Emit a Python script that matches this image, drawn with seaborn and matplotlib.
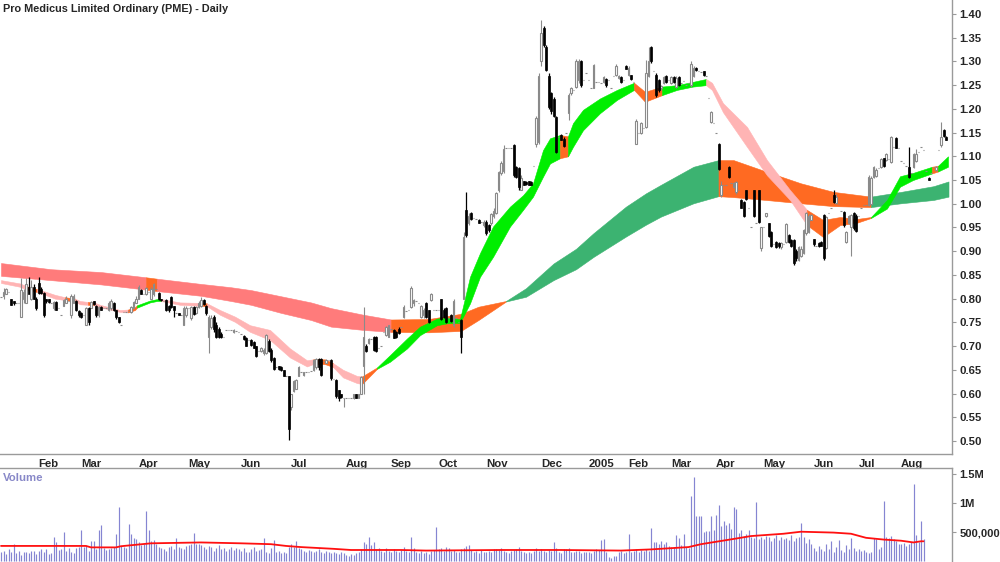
import numpy as np
import pandas as pd
import matplotlib
matplotlib.use("Agg")
import matplotlib.pyplot as plt
from matplotlib import font_manager
import seaborn as sns

# ---- daily bars (open, high, low, close), one list per month ----
jan04 = [(0.803,0.803,0.803,0.803),(0.805,0.822,0.80,0.815),(0.81,0.822,0.81,0.82),(0.815,0.815,0.815,0.815),
         (0.80,0.80,0.787,0.787),(0.795,0.795,0.787,0.79),(0.79,0.79,0.79,0.79),(0.79,0.79,0.79,0.79),
         (0.762,0.843,0.762,0.818),(0.80,0.82,0.79,0.815),(0.79,0.843,0.79,0.83),(0.825,0.845,0.81,0.81),
         (0.80,0.84,0.797,0.825),(0.825,0.83,0.80,0.80),(0.80,0.804,0.776,0.78)]
feb04 = [(0.832,0.845,0.81,0.812),(0.82,0.825,0.81,0.812),(0.812,0.815,0.762,0.765),(0.80,0.80,0.79,0.795),
         (0.80,0.80,0.79,0.792),(0.79,0.79,0.79,0.79),(0.78,0.795,0.775,0.793),(0.793,0.795,0.775,0.777),
         (0.78,0.78,0.78,0.78),(0.766,0.766,0.766,0.766),(0.785,0.80,0.785,0.797),(0.79,0.805,0.79,0.80),
         (0.795,0.795,0.795,0.795),(0.765,0.81,0.76,0.805),(0.79,0.81,0.79,0.805),(0.795,0.797,0.773,0.775),
         (0.773,0.775,0.762,0.765)]
mar04 = [(0.77,0.772,0.76,0.762),(0.765,0.765,0.765,0.765),(0.745,0.783,0.745,0.78),(0.78,0.783,0.745,0.75),
         (0.78,0.795,0.78,0.792),(0.794,0.794,0.787,0.788),(0.785,0.787,0.762,0.765),(0.765,0.785,0.762,0.783),
         (0.783,0.785,0.775,0.776),(0.78,0.78,0.78,0.78),(0.78,0.78,0.78,0.78),(0.775,0.795,0.773,0.79),
         (0.78,0.80,0.775,0.795),(0.79,0.792,0.773,0.775),(0.775,0.775,0.758,0.762),(0.762,0.762,0.748,0.75),
         (0.745,0.745,0.745,0.745),(0.772,0.772,0.772,0.772),(0.772,0.772,0.772,0.772),(0.773,0.773,0.773,0.773),
         (0.772,0.785,0.77,0.783),(0.78,0.795,0.78,0.792),(0.79,0.805,0.79,0.80)]
apr04 = [(0.80,0.828,0.80,0.825),(0.818,0.82,0.81,0.81),(0.81,0.81,0.81,0.81),(0.81,0.825,0.808,0.822),
         (0.815,0.815,0.815,0.815),(0.80,0.825,0.80,0.82),(0.81,0.833,0.805,0.83),(0.82,0.82,0.82,0.82),
         (0.811,0.815,0.797,0.80),(0.80,0.80,0.795,0.797),(0.795,0.795,0.795,0.795),(0.797,0.80,0.773,0.775),
         (0.785,0.787,0.772,0.775),(0.804,0.806,0.78,0.783),(0.785,0.785,0.762,0.776),(0.77,0.77,0.77,0.77),
         (0.769,0.77,0.765,0.766),(0.766,0.766,0.766,0.766),(0.744,0.785,0.744,0.78),(0.765,0.785,0.762,0.78)]
may04 = [(0.78,0.78,0.78,0.78),(0.76,0.785,0.755,0.783),(0.783,0.785,0.765,0.768),(0.77,0.785,0.768,0.782),
         (0.782,0.795,0.78,0.79),(0.785,0.804,0.783,0.797),(0.797,0.80,0.787,0.788),(0.785,0.787,0.765,0.77),
         (0.72,0.765,0.685,0.762),(0.74,0.765,0.735,0.76),(0.762,0.765,0.73,0.735),(0.745,0.75,0.716,0.72),
         (0.735,0.74,0.716,0.72),(0.725,0.73,0.716,0.72),(0.72,0.72,0.72,0.72),(0.734,0.734,0.734,0.734),
         (0.734,0.734,0.734,0.734),(0.733,0.733,0.733,0.733),(0.73,0.735,0.728,0.733),(0.732,0.732,0.732,0.732),
         (0.73,0.73,0.73,0.73)]
jun04 = [(0.725,0.725,0.725,0.725),(0.722,0.724,0.712,0.714),(0.716,0.72,0.70,0.70),(0.712,0.712,0.712,0.712),
         (0.712,0.715,0.70,0.702),(0.709,0.71,0.695,0.696),(0.70,0.70,0.678,0.68),(0.69,0.69,0.69,0.69),
         (0.69,0.697,0.688,0.695),(0.685,0.695,0.682,0.692),(0.685,0.725,0.683,0.723),(0.71,0.715,0.688,0.69),
         (0.692,0.695,0.667,0.67),(0.674,0.676,0.65,0.652),(0.655,0.655,0.655,0.655),(0.657,0.658,0.65,0.652),
         (0.655,0.657,0.648,0.65),(0.65,0.65,0.636,0.637),(0.636,0.636,0.636,0.636),(0.636,0.636,0.502,0.525)]
jul04 = [(0.572,0.60,0.565,0.598),(0.605,0.628,0.603,0.626),(0.61,0.63,0.61,0.628),(0.636,0.657,0.636,0.655),
         (0.645,0.645,0.645,0.645),(0.638,0.646,0.636,0.645),(0.645,0.645,0.645,0.645),(0.646,0.646,0.646,0.646),
         (0.648,0.648,0.648,0.648),(0.65,0.672,0.648,0.67),(0.655,0.675,0.652,0.672),(0.672,0.675,0.65,0.655),
         (0.672,0.674,0.636,0.64),(0.668,0.668,0.668,0.668),(0.665,0.672,0.664,0.67),(0.67,0.67,0.67,0.67),
         (0.67,0.672,0.628,0.632),(0.63,0.63,0.63,0.63),(0.628,0.63,0.59,0.595),(0.607,0.608,0.585,0.59),
         (0.60,0.60,0.59,0.592),(0.59,0.59,0.572,0.59)]
aug04 = [(0.59,0.59,0.59,0.59),(0.59,0.59,0.59,0.59),(0.59,0.59,0.59,0.59),(0.59,0.60,0.588,0.598),
         (0.60,0.60,0.59,0.59),(0.59,0.60,0.59,0.598),(0.598,0.636,0.598,0.634),(0.657,0.782,0.60,0.72),
         (0.70,0.705,0.688,0.69),(0.706,0.716,0.704,0.715),(0.715,0.715,0.715,0.715),(0.72,0.722,0.69,0.692),
         (0.72,0.722,0.688,0.69),(0.695,0.695,0.695,0.695),(0.70,0.70,0.70,0.70),(0.73,0.73,0.73,0.73),
         (0.723,0.742,0.722,0.74),(0.72,0.745,0.72,0.744)]
sep04 = [(0.735,0.735,0.735,0.735),(0.734,0.736,0.716,0.718),(0.73,0.732,0.716,0.72),(0.737,0.74,0.726,0.727),
         (0.74,0.74,0.74,0.74),(0.762,0.786,0.76,0.783),(0.773,0.773,0.773,0.773),(0.775,0.775,0.775,0.775),
         (0.783,0.826,0.78,0.822),(0.79,0.80,0.785,0.797),(0.794,0.794,0.794,0.794),(0.79,0.79,0.79,0.79),
         (0.762,0.787,0.76,0.785),(0.765,0.78,0.76,0.776),(0.79,0.792,0.76,0.762),(0.775,0.777,0.748,0.75),
         (0.797,0.811,0.795,0.81),(0.775,0.775,0.775,0.775),(0.775,0.775,0.775,0.775)]
oct04 = [(0.775,0.775,0.775,0.775),(0.80,0.80,0.755,0.757),(0.775,0.78,0.76,0.762),(0.78,0.782,0.748,0.75),
         (0.76,0.76,0.76,0.76),(0.765,0.767,0.75,0.752),(0.745,0.80,0.74,0.795),(0.76,0.76,0.76,0.76),
         (0.75,0.75,0.75,0.75),(0.755,0.757,0.685,0.72),(0.80,0.94,0.80,0.93),(0.987,1.025,0.93,0.935),
         (0.96,0.98,0.955,0.975),(0.98,0.982,0.966,0.968),(0.97,0.97,0.97,0.97),(0.968,0.968,0.968,0.968),
         (0.966,0.968,0.96,0.96),(0.962,0.962,0.962,0.962),(0.955,0.965,0.95,0.962)]
nov04 = [(0.962,0.965,0.935,0.938),(0.955,0.958,0.94,0.945),(0.959,0.98,0.955,0.978),(0.975,0.99,0.97,0.985),
         (0.98,1.025,0.978,1.022),(1.029,1.07,1.025,1.066),(1.064,1.09,1.06,1.085),(1.07,1.124,1.065,1.115),
         (1.118,1.118,1.118,1.118),(1.118,1.118,1.118,1.118),(1.117,1.117,1.117,1.117),(1.124,1.125,1.057,1.06),
         (1.078,1.08,1.055,1.057),(1.075,1.078,1.03,1.035),(1.03,1.06,1.028,1.055),(1.047,1.048,1.04,1.04),
         (1.046,1.047,1.04,1.041),(1.047,1.048,1.04,1.04),(1.046,1.047,1.04,1.04),(1.08,1.08,1.08,1.08),
         (1.127,1.185,1.12,1.18),(1.13,1.275,1.125,1.27)]
dec04 = [(1.30,1.387,1.29,1.36),(1.37,1.375,1.33,1.335),(1.331,1.335,1.28,1.282),(1.27,1.275,1.20,1.205),
         (1.233,1.235,1.19,1.195),(1.22,1.225,1.183,1.185),(1.183,1.185,1.106,1.11),(1.14,1.14,1.14,1.14),
         (1.145,1.147,1.134,1.135),(1.136,1.14,1.12,1.122),(1.15,1.15,1.15,1.15),(1.191,1.233,1.177,1.23),
         (1.233,1.247,1.23,1.245),(1.24,1.24,1.24,1.24),(1.247,1.305,1.245,1.30),(1.26,1.305,1.255,1.30),
         (1.30,1.303,1.247,1.25),(1.26,1.26,1.26,1.26),(1.275,1.275,1.275,1.275)]
jan05 = [(1.26,1.26,1.26,1.26),(1.243,1.243,1.243,1.243),(1.245,1.295,1.243,1.292),(1.257,1.257,1.257,1.257),
         (1.257,1.257,1.257,1.257),(1.255,1.255,1.255,1.255),(1.257,1.27,1.255,1.268),(1.264,1.265,1.247,1.25),
         (1.26,1.26,1.26,1.26),(1.245,1.245,1.245,1.245),(1.27,1.27,1.27,1.27),(1.271,1.295,1.27,1.29),
         (1.265,1.272,1.262,1.27),(1.268,1.27,1.255,1.257),(1.26,1.26,1.26,1.26),(1.29,1.292,1.283,1.285)]
feb05 = [(1.271,1.29,1.27,1.286),(1.271,1.272,1.261,1.262),(1.257,1.257,1.257,1.257),(1.127,1.178,1.125,1.175),
         (1.15,1.15,1.15,1.15),(1.15,1.172,1.148,1.17),(1.159,1.159,1.159,1.159),(1.162,1.303,1.16,1.275),
         (1.27,1.33,1.268,1.30),(1.331,1.333,1.297,1.30),(1.28,1.28,1.28,1.28),(1.271,1.275,1.226,1.23),
         (1.26,1.262,1.235,1.24),(1.243,1.25,1.24,1.248),(1.255,1.27,1.253,1.268),(1.27,1.272,1.254,1.256),
         (1.26,1.26,1.26,1.26)]
mar05 = [(1.254,1.27,1.252,1.268),(1.268,1.27,1.255,1.257),(1.247,1.27,1.245,1.265),(1.268,1.27,1.248,1.25),
         (1.255,1.255,1.255,1.255),(1.258,1.258,1.258,1.258),(1.25,1.25,1.25,1.25),(1.255,1.255,1.255,1.255),
         (1.25,1.30,1.247,1.295),(1.27,1.29,1.268,1.287),(1.286,1.288,1.28,1.281),(1.28,1.28,1.28,1.28),
         (1.278,1.278,1.278,1.278),(1.28,1.28,1.27,1.272),(1.27,1.27,1.27,1.27),(1.222,1.222,1.222,1.222),
         (1.173,1.196,1.17,1.194),(1.17,1.17,1.17,1.17)]
apr05 = [(1.149,1.149,1.149,1.149),(1.127,1.128,1.071,1.073),(1.018,1.047,1.015,1.04),(1.04,1.04,1.04,1.04),
         (1.04,1.04,1.04,1.04),(1.078,1.08,1.055,1.057),(1.043,1.043,1.043,1.043),(1.035,1.045,1.033,1.043),
         (1.025,1.047,1.02,1.045),(1.03,1.03,1.03,1.03),(1.008,1.01,0.99,0.992),(1.004,1.005,0.973,0.975),
         (1.029,1.03,1.008,1.01),(0.99,0.99,0.99,0.99),(0.952,0.952,0.952,0.952),(1.029,1.03,0.972,0.975),
         (0.96,0.96,0.96,0.96),(1.029,1.03,0.959,0.962),(0.906,0.952,0.90,0.95)]
may05 = [(0.95,0.95,0.95,0.95),(0.975,0.98,0.972,0.98),(0.959,0.96,0.93,0.932),(0.94,0.942,0.909,0.912),
         (0.915,0.915,0.915,0.915),(0.92,0.922,0.906,0.908),(0.918,0.92,0.906,0.91),(0.909,0.92,0.905,0.917),
         (0.915,0.915,0.915,0.915),(0.92,0.96,0.918,0.958),(0.934,0.936,0.917,0.92),(0.924,0.925,0.909,0.91),
         (0.924,0.925,0.871,0.875),(0.90,0.905,0.88,0.885),(0.881,0.912,0.88,0.909),(0.89,0.91,0.888,0.905),
         (0.896,0.947,0.895,0.945),(0.938,0.982,0.935,0.98),(0.94,0.978,0.938,0.975),(0.966,0.978,0.965,0.976)]
jun05 = [(0.925,0.926,0.912,0.915),(0.91,0.91,0.91,0.91),(0.918,0.92,0.909,0.91),(0.92,0.921,0.91,0.912),
         (0.976,0.978,0.881,0.885),(0.906,0.975,0.905,0.973),(0.98,0.98,0.98,0.98),(0.99,0.99,0.99,0.99),
         (1.018,1.03,1.001,1.003),(1.002,1.02,1.0,1.015),(1.0,1.0,1.0,1.0),(0.985,0.985,0.985,0.985),
         (0.983,0.985,0.952,0.955),(0.92,0.942,0.918,0.94),(0.959,0.977,0.958,0.975),(0.95,0.978,0.89,0.976),
         (0.98,0.982,0.945,0.948),(0.975,0.978,0.94,0.942)]
jul05 = [(0.975,0.975,0.975,0.975),(0.99,0.99,0.99,0.99),(0.997,0.997,0.997,0.997),(0.998,0.998,0.998,0.998),
         (0.997,1.06,0.995,1.057),(1.0,1.058,0.997,1.055),(1.057,1.08,1.055,1.078),(1.058,1.075,1.056,1.072),
         (1.075,1.075,1.075,1.075),(1.078,1.097,1.076,1.095),(1.096,1.097,1.078,1.08),(1.092,1.106,1.09,1.105),
         (1.095,1.095,1.095,1.095),(1.089,1.142,1.085,1.14),(1.12,1.12,1.12,1.12),(1.138,1.14,1.117,1.118),
         (1.117,1.117,1.117,1.117)]
aug05 = [(1.09,1.09,1.09,1.09),(1.085,1.085,1.085,1.085),(1.08,1.08,1.08,1.08),(1.078,1.12,1.055,1.057),
         (1.065,1.065,1.065,1.065),(1.078,1.106,1.076,1.104),(1.09,1.115,1.088,1.105),(1.11,1.11,1.11,1.11),
         (1.12,1.12,1.12,1.12),(1.113,1.113,1.113,1.113),(1.07,1.07,1.07,1.07),(1.055,1.056,1.05,1.05),
         (1.065,1.065,1.065,1.065),(1.078,1.078,1.078,1.078),(1.071,1.079,1.07,1.078),(1.113,1.113,1.113,1.113),
         (1.124,1.173,1.12,1.14),(1.155,1.157,1.141,1.143),(1.141,1.142,1.134,1.135)]

price_months = [jan04, feb04, mar04, apr04, may04, jun04, jul04, aug04, sep04, oct04, nov04, dec04,
                jan05, feb05, mar05, apr05, may05, jun05, jul05, aug05]
month_labels = ["", "Feb", "Mar", "Apr", "May", "Jun", "Jul", "Aug", "Sep", "Oct", "Nov", "Dec",
                "2005", "Feb", "Mar", "Apr", "May", "Jun", "Jul", "Aug"]

# ---- daily volume (thousands of shares), one list per month ----
vol_jan04 = [150, 180, 120, 200, 160, 290, 130, 170, 110, 150, 160, 140, 180, 170, 120]
vol_feb04 = [180, 200, 160, 210, 120, 140, 410, 330, 190, 200, 500, 180, 230, 150, 140, 220, 240]
vol_mar04 = [530, 250, 260, 180, 350, 350, 200, 540, 620, 230, 190, 210, 220, 240, 460, 930, 260, 240,
             220, 630, 460, 400, 380]
vol_apr04 = [330, 280, 300, 860, 540, 350, 360, 300, 250, 220, 200, 180, 240, 260, 210, 400, 250, 230, 200, 260]
vol_may04 = [280, 300, 480, 290, 300, 270, 250, 200, 260, 240, 180, 220, 280, 200, 230, 170, 210, 250, 190, 230, 200]
vol_jun04 = [180, 220, 160, 150, 200, 240, 170, 190, 210, 400, 160, 140, 230, 360, 150, 170, 130, 150, 140, 250]
vol_jul04 = [300, 250, 340, 230, 200, 180, 160, 190, 170, 150, 180, 200, 160, 140, 170, 150, 130, 160, 140, 120,
             150, 130]
vol_aug04 = [110, 90, 120, 100, 130, 150, 200, 330, 300, 420, 280, 330, 200, 230, 180, 160, 220, 170]
vol_sep04 = [150, 200, 170, 160, 190, 250, 180, 160, 410, 220, 150, 130, 170, 140, 160, 120, 180, 190, 590]
vol_oct04 = [200, 230, 180, 250, 220, 170, 190, 160, 150, 210, 230, 260, 280, 190, 160, 170, 140, 190, 150]
vol_nov04 = [160, 180, 150, 200, 210, 190, 230, 170, 160, 140, 180, 190, 200, 250, 170, 150, 140, 160, 130, 170,
             220, 180]
vol_dec04 = [210, 180, 160, 190, 170, 320, 230, 150, 140, 200, 210, 220, 160, 150, 170, 180, 140, 150, 160]
vol_jan05 = [150, 130, 170, 200, 190, 370, 380, 160, 70, 60, 80, 90, 150, 170, 140, 160]
vol_feb05 = [460, 150, 180, 200, 160, 190, 180, 210, 170, 570, 330, 320, 290, 350, 300, 330, 260]
vol_mar05 = [250, 240, 450, 400, 280, 470, 250, 230, 1120, 1450, 780, 770, 780, 500, 520, 510, 780, 530]
vol_apr05 = [790, 970, 600, 690, 620, 660, 560, 930, 900, 480, 540, 430, 470, 540, 420, 400, 1020, 380, 420]
vol_may05 = [380, 430, 420, 350, 400, 440, 360, 420, 380, 400, 370, 450, 350, 390, 420, 660, 420, 310, 380, 300]
vol_jun05 = [220, 180, 260, 200, 170, 290, 210, 340, 160, 240, 360, 190, 150, 270, 200, 400, 230, 180]
vol_jul05 = [210, 170, 190, 150, 130, 160, 400, 380, 200, 240, 1030, 420, 400, 430, 380, 340, 300]
vol_aug05 = [290, 310, 260, 300, 320, 1330, 440, 330, 690, 380]
volume_months = [vol_jan04, vol_feb04, vol_mar04, vol_apr04, vol_may04, vol_jun04, vol_jul04, vol_aug04,
                 vol_sep04, vol_oct04, vol_nov04, vol_dec04, vol_jan05, vol_feb05, vol_mar05, vol_apr05,
                 vol_may05, vol_jun05, vol_jul05, vol_aug05]

# volume average line (bar position, thousands)
vma_pos = [0, 34, 36, 46, 48, 60, 80, 96, 108, 114, 120, 133, 140, 160, 170, 200, 224, 248, 260, 275,
           280, 293, 300, 313, 320, 333, 340, 346, 353, 360, 365, 368, 369]
vma_val = [260, 260, 235, 235, 255, 305, 320, 305, 290, 260, 240, 210, 190, 190, 180, 190, 190, 180, 200, 240,
           290, 380, 430, 470, 505, 490, 470, 400, 370, 350, 320, 340, 340]

# short-term average ribbon: position, upper, lower, state of the stretch that follows
st_pos = [0, 7.6, 10.4, 14.4, 17.6, 21.6, 25.6, 29.6, 31.6, 34.8, 37.2, 39.6, 47.6, 50.8, 53.6, 54.4, 59.6,
          62.4, 64, 71.6, 79.6, 82.4, 87.6, 93.6, 99.6, 107.6, 115.6, 122.4, 124.8, 129.6, 132.8, 136.8, 142.4,
          144.4, 147.6, 150.4, 155.6, 162.4, 167.6, 174.4, 178.4, 183.6, 187.6, 191.6, 196.8, 203.6, 208.8,
          212.8, 216.8, 219.6, 223.6, 226.8, 228.8, 232.8, 239.6, 246.4, 253.2, 257.6, 264.4, 270.4, 276.8,
          282, 284.4, 288.8, 298.4, 306.4, 315.6, 322.4, 328.8, 335.6, 342.4, 348, 354.4, 359.6, 364.8,
          372.4, 374.8, 378.8]
st_hi = [0.839, 0.832, 0.826, 0.82, 0.815, 0.808, 0.803, 0.80, 0.795, 0.793, 0.792, 0.787, 0.776, 0.777,
         0.782, 0.786, 0.796, 0.799, 0.799, 0.792, 0.791, 0.79, 0.776, 0.762, 0.744, 0.734, 0.695, 0.67,
         0.672, 0.672, 0.664, 0.65, 0.637, 0.636, 0.646, 0.655, 0.681, 0.716, 0.741, 0.758, 0.76, 0.757,
         0.846, 0.896, 0.952, 0.994, 1.018, 1.043, 1.113, 1.138, 1.145, 1.142, 1.17, 1.198, 1.222, 1.24,
         1.255, 1.236, 1.247, 1.25, 1.257, 1.263, 1.255, 1.212, 1.162, 1.092, 1.029, 0.987, 0.966, 0.972,
         0.968, 0.972, 1.008, 1.058, 1.065, 1.078, 1.08, 1.10]
st_lo = [0.833, 0.825, 0.819, 0.814, 0.808, 0.80, 0.797, 0.794, 0.788, 0.787, 0.786, 0.782, 0.772, 0.771,
         0.776, 0.781, 0.792, 0.795, 0.795, 0.787, 0.785, 0.784, 0.766, 0.751, 0.73, 0.713, 0.676, 0.657,
         0.662, 0.662, 0.656, 0.634, 0.622, 0.62, 0.637, 0.652, 0.667, 0.695, 0.723, 0.744, 0.748, 0.749,
         0.79, 0.846, 0.888, 0.952, 0.987, 1.015, 1.057, 1.085, 1.096, 1.10, 1.12, 1.155, 1.191, 1.219,
         1.24, 1.215, 1.229, 1.24, 1.247, 1.25, 1.24, 1.193, 1.12, 1.06, 1.008, 0.955, 0.93, 0.955,
         0.96, 0.97, 0.99, 1.036, 1.05, 1.064, 1.068, 1.078]
st_state = ["D", "D", "M", "D", "D", "D", "M", "D", "D", "M", "D", "D", "D", "M", "M", "U", "U", "U", "D", "D",
            "M", "D", "D", "D", "D", "D", "D", "D", "M", "M", "D", "D", "D", "M", "M", "U", "U", "U", "U", "U",
            "U", "U", "U", "U", "U", "U", "U", "U", "U", "U", "M", "U", "U", "U", "U", "U", "M", "M", "U", "U",
            "U", "D", "D", "D", "D", "D", "D", "M", "M", "M", "M", "U", "U", "U", "U", "M", "U"]

# long-term average ribbon
lt_pos = [0, 20, 40, 58, 62.4, 80, 92, 100, 112, 124, 132, 145, 156, 171, 184, 191, 202, 210, 221, 230,
          237, 250, 258, 264, 277, 287, 293, 306, 320, 333, 348, 360, 373, 379]
lt_hi = [0.875, 0.862, 0.856, 0.845, 0.842, 0.831, 0.824, 0.818, 0.805, 0.792, 0.78, 0.766, 0.756, 0.757,
         0.768, 0.783, 0.795, 0.822, 0.874, 0.905, 0.938, 0.994, 1.022, 1.04, 1.078, 1.092, 1.092, 1.068,
         1.043, 1.025, 1.015, 1.025, 1.037, 1.047]
lt_lo = [0.848, 0.839, 0.83, 0.819, 0.816, 0.806, 0.795, 0.787, 0.77, 0.755, 0.741, 0.734, 0.73, 0.729,
         0.732, 0.755, 0.794, 0.804, 0.839, 0.862, 0.888, 0.931, 0.956, 0.973, 1.001, 1.016, 1.014, 1.008,
         1.001, 0.995, 0.993, 1.001, 1.008, 1.015]
lt_state = ["D", "D", "D", "M", "D", "D", "D", "D", "D", "D", "D", "D", "M", "M", "M", "M", "U", "U", "U", "U",
            "U", "U", "U", "U", "U", "M", "M", "M", "M", "M", "U", "U", "U"]

title = "Pro Medicus Limited Ordinary (PME) - Daily"

# ---- build frames ----
bars = pd.DataFrame([b for m in price_months for b in m], columns=["o", "h", "l", "c"])
bars["x"] = np.arange(len(bars))
month_starts = np.cumsum([0] + [len(m) for m in price_months[:-1]])
vols = np.array([v for m in volume_months for v in m], dtype=float) * 1000
vol_df = pd.DataFrame({"x": np.arange(len(vols)), "v": vols})
vma_df = pd.DataFrame({"x": vma_pos, "v": np.array(vma_val) * 1000.0})

sns.set_style("white")
names = {f.name for f in font_manager.fontManager.ttflist}
base_font = "Liberation Sans" if "Liberation Sans" in names else "DejaVu Sans"
narrow_font = "Liberation Sans Narrow" if "Liberation Sans Narrow" in names else base_font
plt.rcParams["font.family"] = [base_font, "DejaVu Sans"]

fig = plt.figure(figsize=(10, 5.62), dpi=100)
ax = fig.add_axes([0.0, 108 / 562, 0.952, 454 / 562])
axv = fig.add_axes([0.0, 0.0, 0.952, 94 / 562])

ribbon_colors = {
    "short": {"U": "#00ee00", "D": "#ffb4b4", "M": "#ff6a22"},
    "long": {"U": "#3cb371", "D": "#ff7b7b", "M": "#ff6a22"},
}


def draw_ribbon(pos, hi, lo, state, palette):
    pos, hi, lo = np.asarray(pos), np.asarray(hi), np.asarray(lo)
    k = 0
    while k < len(state):
        j = k
        while j + 1 < len(state) and state[j + 1] == state[k]:
            j += 1
        sl = slice(k, j + 2)
        col = palette[state[k]]
        ax.fill_between(pos[sl], lo[sl], hi[sl], color=col, lw=0.4, edgecolor=col, zorder=1)
        k = j + 1


draw_ribbon(lt_pos, lt_hi, lt_lo, lt_state, ribbon_colors["long"])
draw_ribbon(st_pos, st_hi, st_lo, st_state, ribbon_colors["short"])

# candles
up = bars["c"] >= bars["o"]
dn = ~up
ub, db = bars[up], bars[dn]
ax.vlines(ub["x"], ub["l"], ub["h"], color="#8a8a8a", lw=0.8, zorder=3)
ax.vlines(db["x"], db["l"], db["h"], color="black", lw=0.9, zorder=3)
ax.bar(ub["x"], ub["c"] - ub["o"], bottom=ub["o"], width=0.75, facecolor="white",
       edgecolor="#8a8a8a", lw=0.8, zorder=4)
ax.bar(db["x"], db["o"] - db["c"], bottom=db["c"], width=0.8, color="black",
       edgecolor="black", lw=0.5, zorder=4)

xlim = (-0.4, 380.4)
ax.set_xlim(*xlim)
ax.set_ylim(0.4725, 1.4295)
yt = np.round(np.arange(0.50, 1.401, 0.05), 2)
ax.set_yticks(yt)
ax.set_yticklabels([f"{v:.2f}" for v in yt])
ax.yaxis.tick_right()
ax.set_xticks(month_starts[1:])
ax.set_xticklabels(month_labels[1:], ha="left")
for s in ["left", "top"]:
    ax.spines[s].set_visible(False)
for s in ["right", "bottom"]:
    ax.spines[s].set_color("#9a9a9a")
    ax.spines[s].set_linewidth(1.0)
ax.tick_params(axis="y", which="both", right=True, left=False, labelright=True, labelleft=False,
               direction="out", length=3, color="#9a9a9a", pad=2.5, labelsize=8.2)
ax.tick_params(axis="x", direction="out", length=2, color="#9a9a9a", pad=1.5, labelsize=8.2)
for lab in ax.get_xticklabels() + ax.get_yticklabels():
    lab.set_fontweight("bold")

fig.text(0.003, 0.993, title, ha="left", va="top", fontsize=7.8, fontweight="bold",
         family=[narrow_font, "DejaVu Sans"])

# volume panel
axv.vlines(vol_df["x"], 0, vol_df["v"], color="#8585d2", lw=0.85, zorder=2)
sns.lineplot(data=vma_df, x="x", y="v", ax=axv, color="#ff1010", lw=1.3, zorder=3)
axv.set_xlim(*xlim)
axv.set_ylim(-17000, 1.603e6)
axv.set_yticks([500000, 1000000, 1500000])
axv.set_yticklabels(["500,000", "1M", "1.5M"])
axv.yaxis.tick_right()
axv.set_xticks([])
axv.set_xlabel("")
axv.set_ylabel("")
for s in ["left", "bottom"]:
    axv.spines[s].set_visible(False)
for s in ["right", "top"]:
    axv.spines[s].set_color("#9a9a9a")
    axv.spines[s].set_linewidth(1.0)
axv.tick_params(axis="y", right=True, left=False, labelright=True, labelleft=False,
                direction="out", length=3, color="#9a9a9a", pad=2.5, labelsize=8.0)
for lab in axv.get_yticklabels():
    lab.set_fontweight("bold")
axv.text(0.003, 0.89, "Volume", transform=axv.transAxes, ha="left", va="center",
         color="#8888c8", fontsize=8.2, fontweight="bold")

fig.savefig("out.png", dpi=100)
